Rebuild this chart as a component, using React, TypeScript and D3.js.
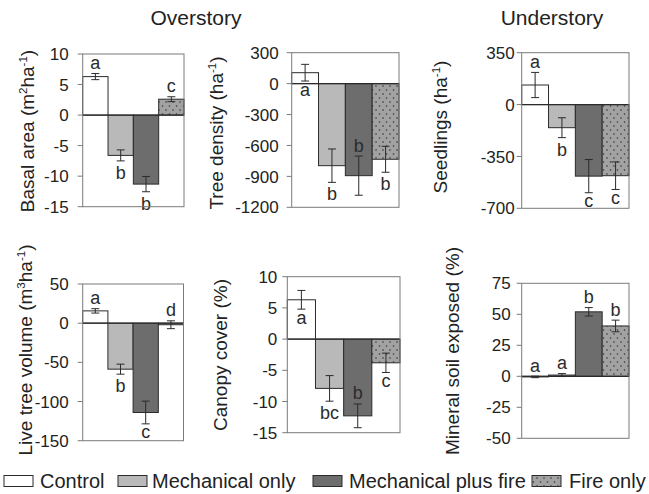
import * as d3 from 'd3';

// treatments (x categories, legend)
const treatments = ['Control', 'Mechanical only', 'Mechanical plus fire', 'Fire only'];

// Overstory
const basalArea = [6.3, -6.6, -11.3, 2.6];
const basalAreaErr = [0.5, 0.9, 1.25, 0.4];
const basalAreaLetters = ['a', 'b', 'b', 'c'];
const basalAreaTicks = [10, 5, 0, -5, -10, -15];

const treeDensity = [106, -796, -893, -734];
const treeDensityErr = [81, 162, 190, 126];
const treeDensityLetters = ['a', 'b', 'b', 'b'];
const treeDensityTicks = [300, 0, -300, -600, -900, -1200];

const liveVolume = [15.7, -58.7, -114, -2];
const liveVolumeErr = [2.8, 6.4, 14.5, 5];
const liveVolumeLetters = ['a', 'b', 'c', 'd'];
const liveVolumeTicks = [50, 0, -50, -100, -150];

const canopyCover = [6.3, -7.9, -12.3, -3.8];
const canopyCoverErr = [1.5, 2.05, 1.9, 1.55];
const canopyCoverLetters = ['a', 'bc', 'b', 'c'];
const canopyCoverTicks = [10, 5, 0, -5, -10, -15];

// Understory
const seedlings = [132, -156, -483, -480];
const seedlingsErr = [85, 67, 112, 93];
const seedlingsLetters = ['a', 'b', 'c', 'c'];
const seedlingsTicks = [350, 0, -350, -700];

const mineralSoil = [-0.5, 1, 52, 40.6];
const mineralSoilErr = [0.6, 1.2, 3.4, 4.7];
const mineralSoilLetters = ['a', 'a', 'b', 'b'];
const mineralSoilTicks = [75, 50, 25, 0, -25, -50];

const FONT = '"Liberation Sans", Arial, Helvetica, sans-serif';
const fills = ['#ffffff', '#b9b9b9', '#6d6d6d', 'url(#dots)'];
const INK = '#2b2b2b';
const FRAME = '#7a7a7a';

type Part = [string, boolean?];

interface PanelDef {
  values: number[];
  errs: number[];
  letters: string[];
  letterPos: ('above' | 'below')[];
  ticks: number[];
  label: Part[];
  box: [number, number, number, number]; // left, right, top, bottom
  labelX: number;
  labelY: number;
  tickGap: number;
}

const panels: PanelDef[] = [
  {
    values: basalArea, errs: basalAreaErr, letters: basalAreaLetters,
    letterPos: ['above', 'below', 'below', 'above'], ticks: basalAreaTicks,
    label: [['Basal area (m'], ['2', true], ['ha'], ['-1', true], [')']],
    box: [82.7, 184, 54, 206.7], labelX: 34, labelY: 131, tickGap: 9,
  },
  {
    values: treeDensity, errs: treeDensityErr, letters: treeDensityLetters,
    letterPos: ['below', 'below', 'above', 'below'], ticks: treeDensityTicks,
    label: [['Tree density (ha'], ['-1', true], [')']],
    box: [291.7, 399, 52.7, 207.3], labelX: 223, labelY: 133, tickGap: 8,
  },
  {
    values: seedlings, errs: seedlingsErr, letters: seedlingsLetters,
    letterPos: ['above', 'below', 'below', 'below'], ticks: seedlingsTicks,
    label: [['Seedlings (ha'], ['-1', true], [')']],
    box: [521.7, 629, 52.7, 208.3], labelX: 447, labelY: 127, tickGap: 2,
  },
  {
    values: liveVolume, errs: liveVolumeErr, letters: liveVolumeLetters,
    letterPos: ['above', 'below', 'below', 'above'], ticks: liveVolumeTicks,
    label: [['Live tree volume (m'], ['3', true], ['ha'], ['-1', true], [')']],
    box: [82.7, 183.5, 284, 440.7], labelX: 32, labelY: 350, tickGap: 9,
  },
  {
    values: canopyCover, errs: canopyCoverErr, letters: canopyCoverLetters,
    letterPos: ['below', 'below', 'above', 'below'], ticks: canopyCoverTicks,
    label: [['Canopy cover (%)']],
    box: [287.3, 400, 276.7, 432.7], labelX: 227, labelY: 355, tickGap: 5,
  },
  {
    values: mineralSoil, errs: mineralSoilErr, letters: mineralSoilLetters,
    letterPos: ['above', 'above', 'above', 'above'], ticks: mineralSoilTicks,
    label: [['Mineral soil exposed (%)']],
    box: [521.7, 629, 283.3, 438.3], labelX: 459, labelY: 351, tickGap: 6,
  },
];

function Panel({ p }: { p: PanelDef }) {
  const [left, right, top, bottom] = p.box;
  const x = d3.scaleBand<string>().domain(treatments).range([left, right]).padding(0);
  const y = d3.scaleLinear()
    .domain([d3.min(p.ticks) as number, d3.max(p.ticks) as number])
    .range([bottom, top]);
  const y0 = y(0);
  const bw = x.bandwidth();

  return (
    <g>
      {/* bars */}
      {p.values.map((v, i) => (
        <rect key={'b' + i}
          x={x(treatments[i])!} width={bw}
          y={Math.min(y(v), y0)} height={Math.max(Math.abs(y(v) - y0), 0.5)}
          fill={fills[i]} stroke={INK} strokeWidth={1} />
      ))}
      {/* zero line */}
      <line x1={left} x2={right} y1={y0} y2={y0} stroke={INK} strokeWidth={1.2} />
      {/* error bars */}
      {p.values.map((v, i) => {
        const cx = x(treatments[i])! + bw / 2;
        const hi = y(v + p.errs[i]);
        const lo = y(v - p.errs[i]);
        return (
          <g key={'e' + i} stroke={INK} strokeWidth={1}>
            <line x1={cx} x2={cx} y1={hi} y2={lo} />
            <line x1={cx - 4} x2={cx + 4} y1={hi} y2={hi} />
            <line x1={cx - 4} x2={cx + 4} y1={lo} y2={lo} />
          </g>
        );
      })}
      {/* significance letters */}
      {p.letters.map((l, i) => {
        const cx = x(treatments[i])! + bw / 2;
        const v = p.values[i];
        const e = p.errs[i];
        const tall = /[bd]/.test(l) ? 13 : 9.5;
        const yy = p.letterPos[i] === 'above' ? y(v + e) - 4.5 : y(v - e) + 5 + tall;
        return (
          <text key={'l' + i} x={cx} y={yy} textAnchor="middle" fontSize={18} fill={INK}>{l}</text>
        );
      })}
      {/* frame */}
      <rect x={left} y={top} width={right - left} height={bottom - top} fill="none" stroke={FRAME} strokeWidth={1} />
      {/* y axis ticks */}
      {p.ticks.map(t => (
        <g key={'t' + t}>
          <line x1={left - 5} x2={left} y1={y(t)} y2={y(t)} stroke={FRAME} strokeWidth={1} />
          <text x={left - 5 - p.tickGap} y={y(t)} dy="0.36em" textAnchor="end" fontSize={17} fill="#222">{t}</text>
        </g>
      ))}
      {/* y label */}
      <text transform={`translate(${p.labelX},${p.labelY}) rotate(-90)`} textAnchor="middle" fontSize={19} fill="#222">
        {p.label.map(([s, sup], k) => sup
          ? <tspan key={k} fontSize={11.5} dy={-7.5}>{s}</tspan>
          : <tspan key={k} dy={k > 0 && p.label[k - 1][1] ? 7.5 : 0}>{s}</tspan>)}
      </text>
    </g>
  );
}

const legendBoxX = [4, 118, 313, 532];
const legendTextX = [40, 152, 349, 569];

export default function App() {
  return (
    <div style={{ position: 'absolute', left: 0, top: 0 }}>
      <svg width={649} height={494} style={{ display: 'block', fontFamily: FONT, background: '#fff' }}>
        <defs>
          <pattern id="dots" width={7} height={8} patternUnits="userSpaceOnUse">
            <rect width={7} height={8} fill="#a2a2a2" />
            <circle cx={1.5} cy={2} r={0.8} fill="#333" />
            <circle cx={5} cy={6} r={0.8} fill="#333" />
          </pattern>
        </defs>
        <text x={196} y={25} textAnchor="middle" fontSize={21} fill="#222">Overstory</text>
        <text x={552} y={25} textAnchor="middle" fontSize={21} fill="#222">Understory</text>
        {panels.map((p, i) => <Panel key={i} p={p} />)}
        {treatments.map((t, i) => (
          <g key={t}>
            <rect x={legendBoxX[i]} y={475.5} width={29} height={11} fill={fills[i]} stroke={INK} strokeWidth={1} />
            <text x={legendTextX[i]} y={488} fontSize={20} fill="#222">{t}</text>
          </g>
        ))}
      </svg>
    </div>
  );
}
